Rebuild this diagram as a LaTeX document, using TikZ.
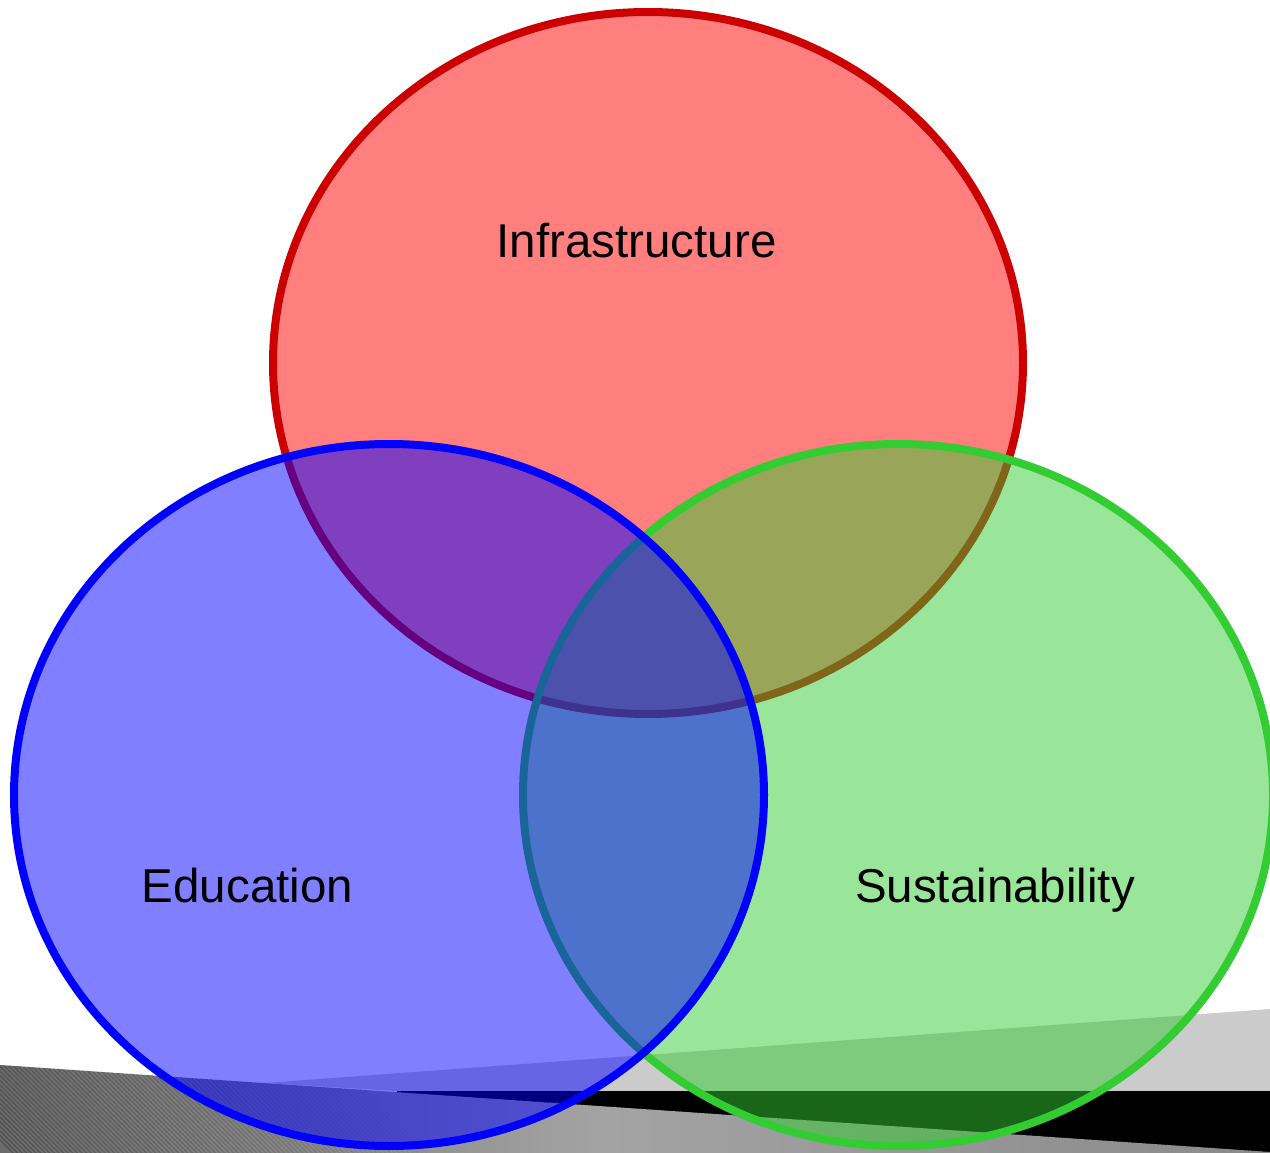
\documentclass[tikz,border=0pt]{standalone}
\usepackage{fontspec}
\setmainfont{Liberation Sans}
\usetikzlibrary{shapes.geometric}
\definecolor{rstroke}{HTML}{CC0000}
\definecolor{rfill}{HTML}{FF0000}
\definecolor{bstroke}{HTML}{0000FF}
\definecolor{gstroke}{HTML}{33CC33}
\definecolor{lgrey}{HTML}{CBCBCB}
\begin{document}
\begin{tikzpicture}[x=1pt,y=-1pt,
  setcircle/.style={ellipse, minimum width=750pt, minimum height=702pt, inner sep=0pt, line width=8pt, fill opacity=0.5, draw opacity=1},
  setlabel/.style={anchor=base, inner sep=0pt, font=\fontsize{47.5}{57}\selectfont, text=black}]
\useasboundingbox (0,0) rectangle (1270,1153);
% floor artefacts
\fill[lgrey] (265,1083) -- (1270,1009) -- (1270,1091) -- (397,1091) -- cycle;
\fill[black] (397,1091) rectangle (1270,1153);
\begin{scope}
  \clip (0,1065) -- (1270,1152) -- (1270,1153) -- (0,1153) -- cycle;
  \foreach \i in {0,...,127} {
    \pgfmathsetmacro{\xx}{\i*10}
    \pgfmathsetmacro{\pct}{\xx<600 ? 58-22*(\xx/600) : 36+10*((\xx-600)/670)}
    \fill[black!\pct] (\xx,1060) rectangle (\xx+10.6,1153);
  }
  \foreach \i in {0,...,90} {
    \pgfmathsetmacro{\xx}{-100+\i*4.6}
    \pgfmathsetmacro{\op}{max(0,0.22*(1-(\xx+60)/460))}
    \draw[black, line width=1.3pt, opacity=\op] (\xx,1040) -- ++(125,125);
  }
\end{scope}
% sets
\node[setcircle, draw=rstroke, fill=rfill] (infra) at (648,363) {};
\node[setcircle, draw=gstroke, fill=gstroke] (sust) at (898,795) {};
\node[setcircle, draw=bstroke, fill=bstroke] (edu) at (389,795) {};
% labels
\node[setlabel] (tinfra) at (636.5,257) {Infrastructure};
\node[setlabel] (tedu) at (247.5,902) {Education};
\node[setlabel] (tsust) at (995,902) {Sustainability};
\end{tikzpicture}
\end{document}
